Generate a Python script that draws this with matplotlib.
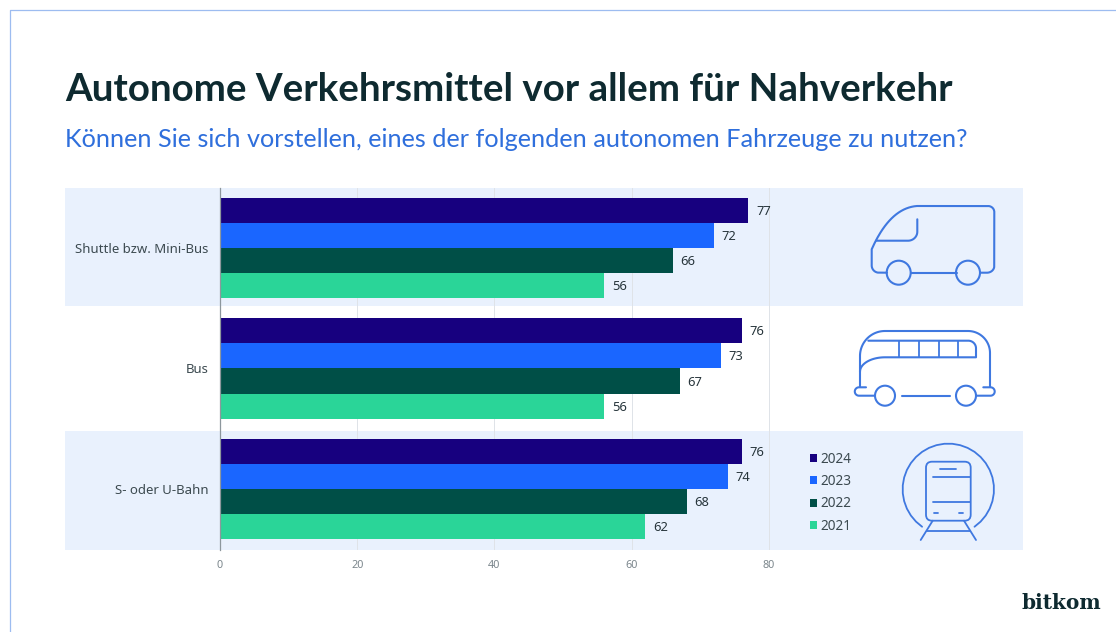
import numpy as np
import matplotlib
matplotlib.use("Agg")
import matplotlib.pyplot as plt
from matplotlib.patches import Rectangle, Circle, FancyBboxPatch

categories = ["Shuttle bzw. Mini-Bus", "Bus", "S- oder U-Bahn"]
years = ["2024", "2023", "2022", "2021"]
v2024 = [77, 76, 76]
v2023 = [72, 73, 74]
v2022 = [66, 67, 68]
v2021 = [56, 56, 62]
series = [v2024, v2023, v2022, v2021]
colors = ["#17007f", "#1a66ff", "#004f47", "#2ad598"]
xticks = [0, 20, 40, 60, 80]

W, H = 1116, 632
plt.rcParams["font.family"] = ["Noto Sans", "DejaVu Sans"]
fig = plt.figure(figsize=(W / 100, H / 100), dpi=100, facecolor="white")

bg = fig.add_axes([0, 0, 1, 1], zorder=0)
bg.set_xlim(0, W); bg.set_ylim(H, 0); bg.axis("off")

BAND = "#e9f1fd"
ICON = "#3f78e0"
bg.plot([10, 10, W], [H, 10, 10], color="#9dbcf0", lw=0.9)
bg.add_patch(Rectangle((65, 188), 958, 118, fc=BAND, ec="none"))
bg.add_patch(Rectangle((65, 431), 958, 119, fc=BAND, ec="none"))

bg.text(65, 101, "Autonome Verkehrsmittel vor allem für Nahverkehr", fontsize=27.75,
        fontweight="bold", color="#0e2a30", family="Lato", va="baseline")
bg.text(65, 147, "Können Sie sich vorstellen, eines der folgenden autonomen Fahrzeuge zu nutzen?",
        fontsize=18.15, color="#2f6fdc", family="Lato", va="baseline")
bg.text(1021, 609, "bitkom", fontsize=14.5, fontweight="bold", color="#0e2a30",
        family="DejaVu Serif", va="baseline")


def line(xs, ys, lw=1.5):
    bg.plot(xs, ys, color=ICON, lw=lw, solid_capstyle="round", solid_joinstyle="round")


def arc(cx, cy, rx, ry, a0, a1):
    t = np.radians(np.linspace(a0, a1, 30))
    return cx + rx * np.cos(t), cy + ry * np.sin(t)


def bez(p0, p1, p2):
    t = np.linspace(0, 1, 40)
    return ((1 - t) ** 2 * p0[0] + 2 * t * (1 - t) * p1[0] + t ** 2 * p2[0],
            (1 - t) ** 2 * p0[1] + 2 * t * (1 - t) * p1[1] + t ** 2 * p2[1])


def ring(cx, cy, r):
    bg.add_patch(Circle((cx, cy), r, fc="none", ec=ICON, lw=1.5))


def poly(*parts):
    xs, ys = [], []
    for p in parts:
        xs.extend(np.atleast_1d(p[0])); ys.extend(np.atleast_1d(p[1]))
    line(xs, ys)


# van
poly(([887], [272.7]), arc(879, 265.5, 7.3, 7.2, 90, 180), ([871.7], [249.3]),
     bez((871.7, 249.3), (890, 208), (917, 206)), ([988], [206]),
     arc(988, 212, 6.3, 6, -90, 0), arc(987, 266, 7.3, 6.7, 0, 90), ([980], [272.7]))
line([910.7, 956.7], [272.7, 272.7])
ring(898.7, 272.7, 12); ring(968, 272.7, 12)
poly(([876], [240.7]), ([908], [240.7]), arc(908, 231.7, 9.3, 9, 90, 0), ([917.3], [219.3]))

# bus
poly(([860], [386.7]), ([860], [356]), arc(885, 356, 25, 25, 180, 270), ([968], [331]),
     arc(968, 353, 22, 22, -90, 0), ([990], [386.7]))
poly(([868.3], [340.7]), ([968.3], [340.7]), arc(968.3, 348.3, 7.7, 7.6, -90, 0),
     ([976], [357.3]), ([885], [357.3]), arc(885, 371.7, 25, 14.4, -90, -180))
for vx in (899.3, 919.3, 938.7, 958.3):
    line([vx, vx], [340.7, 357.3], lw=1.3)
ring(885, 395.7, 10); ring(966, 395.7, 10)
line([901.7, 950], [395.7, 395.7])
poly(([866], [387.3]), ([859], [387.3]), arc(859, 391.5, 4.2, 4.2, -90, -270), ([875], [395.7]))
poly(([983.3], [387.3]), ([990.5], [387.3]), arc(990.5, 391.5, 4.2, 4.2, -90, 90), ([976], [395.7]))

# train
xa, ya = arc(948.3, 489.3, 45.7, 45.7, 125, 415)
line(xa, ya, lw=1.3)
bg.add_patch(FancyBboxPatch((932, 467.7), 32.7, 47, boxstyle="round,pad=6,rounding_size=6",
                            fc="none", ec=ICON, lw=1.3))
line([932.7, 970], [476.7, 476.7], lw=1.3)
line([932.7, 970], [502.3, 502.3], lw=1.3)
line([940, 956], [469.3, 469.3], lw=1.3)
line([934, 938], [512.7, 512.7], lw=1.3)
line([958.7, 963.3], [512.7, 512.7], lw=1.3)
line([932.7, 920.7], [520.7, 540], lw=1.3)
line([964, 976], [520.7, 540], lw=1.3)
line([927.3, 970], [530.7, 530.7], lw=1.3)

# chart
PX_PER_UNIT = 6.8625
BAR_PX = 25.1
ax = fig.add_axes([220 / W, 1 - 550 / H, 803 / W, 362 / H], zorder=1)
ax.patch.set_alpha(0)
ax.set_xlim(0, 803 / PX_PER_UNIT)
ax.set_ylim(302 / BAR_PX, -60 / BAR_PX)
group_step = 120.5 / BAR_PX
centers = np.arange(len(categories)) * group_step
for i, (vals, col, yr) in enumerate(zip(series, colors, years)):
    bars = ax.barh(centers + (i - 1.5), vals, height=1.0, color=col, label=yr, zorder=3)
    labels = ax.bar_label(bars, padding=5.5, fontsize=9.3, color="#26343a")
    for t in labels:
        t.xyann = (5.5, -0.7)
ax.set_yticks(centers, categories)
ax.set_xticks(xticks)
ax.tick_params(axis="y", length=0, pad=8.5, labelsize=9.5, labelcolor="#3c4a50")
ax.tick_params(axis="x", length=0, pad=7, labelsize=7.8, labelcolor="#7b868c")
ax.grid(axis="x", color="#dfe3e8", lw=0.7, zorder=0)
ax.set_axisbelow(True)
for s in ("top", "right", "bottom"):
    ax.spines[s].set_visible(False)
ax.spines["left"].set_color("#8d979d")
ax.spines["left"].set_linewidth(0.9)
ax.spines["left"].set_zorder(4)

leg = ax.legend(loc="upper left", bbox_to_anchor=((809.5 - 220) / 803, 1 - (452 - 188) / 362),
                frameon=False, fontsize=9.8, labelspacing=0.53, handlelength=0.52, handleheight=0.52,
                handletextpad=0.3, borderpad=0, borderaxespad=0, labelcolor="#3c4a50")

fig.savefig("out.png", dpi=100)
